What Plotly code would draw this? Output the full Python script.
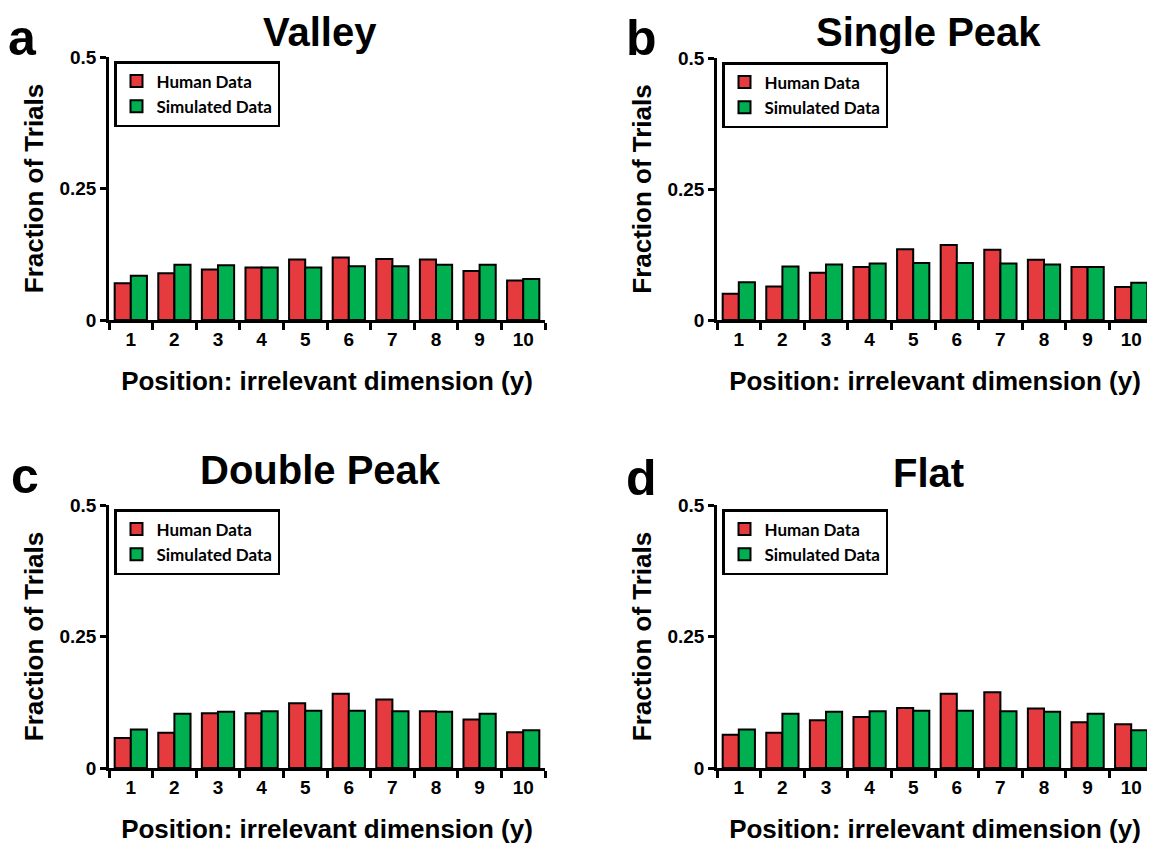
import plotly.graph_objects as go

positions = ["1", "2", "3", "4", "5", "6", "7", "8", "9", "10"]

valley_human = [0.070, 0.089, 0.096, 0.100, 0.115, 0.119, 0.116, 0.115, 0.093, 0.075]
valley_sim = [0.084, 0.105, 0.104, 0.100, 0.100, 0.102, 0.102, 0.105, 0.105, 0.078]

single_human = [0.050, 0.064, 0.090, 0.101, 0.135, 0.143, 0.134, 0.115, 0.101, 0.063]
single_sim = [0.072, 0.102, 0.106, 0.108, 0.109, 0.109, 0.108, 0.106, 0.101, 0.071]

double_human = [0.057, 0.067, 0.104, 0.104, 0.123, 0.141, 0.130, 0.108, 0.092, 0.068]
double_sim = [0.073, 0.103, 0.107, 0.108, 0.109, 0.109, 0.108, 0.107, 0.103, 0.072]

flat_human = [0.063, 0.067, 0.091, 0.097, 0.114, 0.141, 0.144, 0.113, 0.087, 0.083]
flat_sim = [0.073, 0.103, 0.107, 0.108, 0.109, 0.109, 0.108, 0.107, 0.103, 0.072]

titles = ["Valley", "Single Peak", "Double Peak", "Flat"]
letters = ["a", "b", "c", "d"]
y_ticks = [0, 0.25, 0.5]
y_tick_text = ["0", "0.25", "0.5"]

RED = "#E53B3E"
GREEN = "#00B050"
FONT = "Liberation Sans, Arial, sans-serif"
LEG_FONT = "Lato, Open Sans, sans-serif"

# page body margin offset (the figure sits 8px inside the window)
OFF = 8
W, H = 1155 - OFF, 845 - OFF


def px_x(x):
    return (x - OFF) / W


def px_y(y):
    return 1 - (y - OFF) / H


# (human, simulated, plot x-range px, plot y-range px, title top y, letter x, letter top y)
panels = [
    (valley_human, valley_sim, (109, 545), (57, 320), OFF, 23, OFF),
    (single_human, single_sim, (717, 1153), (58, 320), OFF, 641, OFF),
    (double_human, double_sim, (109, 545), (505, 768), 446, 25, 446),
    (flat_human, flat_sim, (717, 1153), (505, 768), 449, 641, 448),
]

fig = go.Figure()
layout = {}
annotations = []
for i, (hum, sim, (x0, x1), (y0, y1), ttop, lx, ltop) in enumerate(panels):
    n = "" if i == 0 else str(i + 1)
    xa, ya = "x" + n, "y" + n
    leg = "legend" + n
    fig.add_trace(go.Bar(x=positions, y=hum, name="Human Data", xaxis=xa, yaxis=ya,
                         marker=dict(color=RED, line=dict(color="black", width=2)),
                         legend=leg))
    fig.add_trace(go.Bar(x=positions, y=sim, name="Simulated Data", xaxis=xa, yaxis=ya,
                         marker=dict(color=GREEN, line=dict(color="black", width=2)),
                         legend=leg))
    layout["xaxis" + n] = dict(
        domain=[px_x(x0), px_x(x1)], anchor=ya, type="category",
        showline=True, linecolor="black", linewidth=2.5,
        ticks="outside", tickson="boundaries", ticklen=7, tickwidth=2.5, tickcolor="black",
        tickfont=dict(family=FONT, size=19, color="black", weight="bold"),
        title=dict(text="<b>Position: irrelevant dimension (y)</b>",
                   font=dict(family=FONT, size=26, color="black"), standoff=24),
        showgrid=False, zeroline=False, fixedrange=True, automargin=False,
    )
    layout["yaxis" + n] = dict(
        domain=[px_y(y1), px_y(y0)], anchor=xa, range=[0, 0.5],
        tickvals=y_ticks, ticktext=y_tick_text,
        showline=True, linecolor="black", linewidth=2.5,
        ticks="outside", ticklen=6, tickwidth=2.5, tickcolor="black",
        tickfont=dict(family=FONT, size=19, color="black", weight="bold"),
        title=dict(text="<b>Fraction of Trials</b>",
                   font=dict(family=FONT, size=26, color="black"), standoff=9),
        showgrid=False, zeroline=False, fixedrange=True, automargin=False,
    )
    layout[leg] = dict(
        x=px_x(x0 + 5), y=px_y(y0 + 4), xanchor="left", yanchor="top",
        bgcolor="white", bordercolor="black", borderwidth=2.5,
        font=dict(family=LEG_FONT, size=17, color="black", weight="bold"),
        tracegroupgap=0, itemsizing="constant",
    )
    cx = (x0 + x1) / 2 - 7
    annotations.append(dict(text="<b>" + titles[i] + "</b>", x=px_x(cx), y=px_y(ttop),
                            xref="paper", yref="paper", showarrow=False,
                            xanchor="center", yanchor="top",
                            font=dict(family=FONT, size=40, color="black")))
    annotations.append(dict(text="<b>" + letters[i] + "</b>", x=px_x(lx), y=px_y(ltop),
                            xref="paper", yref="paper", showarrow=False,
                            xanchor="center", yanchor="top",
                            font=dict(family=FONT, size=50, color="black")))

fig.update_layout(
    width=W, height=H, margin=dict(l=0, r=0, t=0, b=0, autoexpand=False),
    plot_bgcolor="white", paper_bgcolor="white",
    barmode="group", bargap=0.26, bargroupgap=0,
    annotations=annotations, **layout,
)

fig.write_html("out.html")
